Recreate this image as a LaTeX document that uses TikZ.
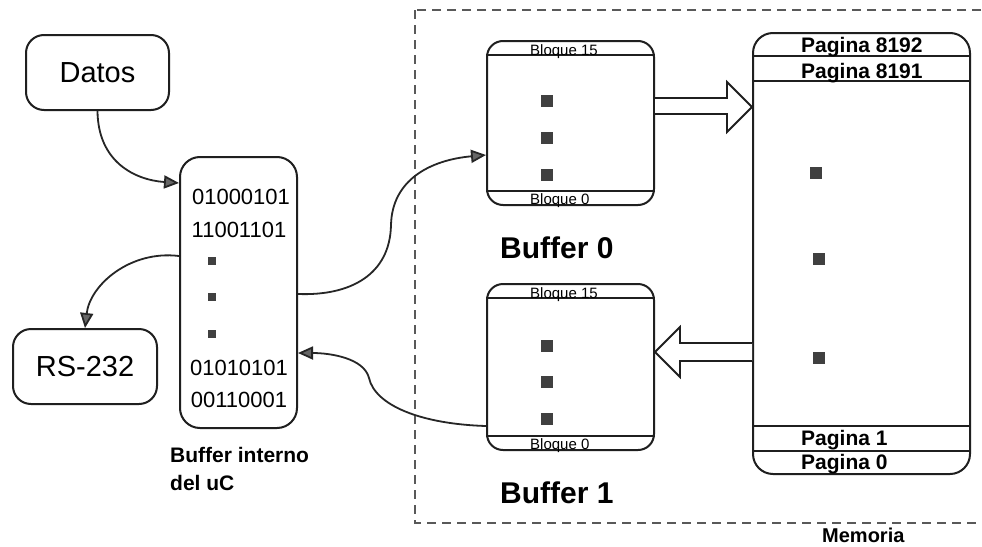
\documentclass[tikz,border=0pt]{standalone}
\usepackage{fontspec}
\setmainfont{Liberation Sans}
\usetikzlibrary{arrows.meta,calc}

\newcommand\fsz[1]{\fontsize{#1}{#1}\selectfont}

\begin{document}
\begin{tikzpicture}[x=1pt,y=-1pt,
  ink/.style={draw=black!88, line width=2pt},
  box/.style={ink, rounded corners=18pt, inner sep=0pt, align=center},
  bank/.style={ink, rounded corners=16pt, inner sep=0pt},
  band/.style={draw=black!88, line width=1.6pt},
  conn/.style={draw=black!85, line width=1.8pt,
    -{Triangle[length=15pt,width=13pt,fill=black!60]}},
  hollow/.style={draw=black!88, line width=1.8pt, fill=white, line join=miter},
  cell/.style={fill=black!75},
  bits/.style={inner sep=0pt, font=\fsz{22}},
  blk/.style={inner sep=0pt, anchor=base west, font=\fsz{15}},
  pg/.style={inner sep=0pt, anchor=base west, font=\fsz{21}\bfseries},
  title/.style={inner sep=0pt, anchor=base west, font=\fsz{30}\bfseries},
  frame/.style={draw=black!65, line width=1.2pt, dash pattern=on 9pt off 6pt}]

\clip (0,0) rectangle (982,546);
\fill[white] (0,0) rectangle (982,546);

% memory region
\draw[frame] (415,10) rectangle (1010,523);
\node[pg, font=\fsz{20}\bfseries] (memlbl) at (822,542) {Memoria};

% microcontroller side
\node[box, minimum width=143pt, minimum height=75pt, font=\fsz{29}] (datos) at (97.5,72.5) {Datos};
\node[box, minimum width=144pt, minimum height=75pt, font=\fsz{29}] (rs) at (85,366.5) {RS-232};
\node[box, minimum width=117pt, minimum height=271pt, rounded corners=20pt] (bint) at (238.5,292.5) {};

\node[bits] (b1) at (241,197) {01000101};
\node[bits] (b2) at (239,230) {11001101};
\node[bits] (b3) at (239,368) {01010101};
\node[bits] (b4) at (239,400) {00110001};
\foreach \y in {261,297,334}
  \fill[cell] (208,\y-4) rectangle (216,\y+4);

\node[inner sep=0pt, anchor=base west, font=\fsz{21}\bfseries] (bintlbl1) at (170,462) {Buffer interno};
\node[inner sep=0pt, anchor=base west, font=\fsz{21}\bfseries] (bintlbl2) at (170,490) {del uC};

% buffer banks
\node[bank, minimum width=167pt, minimum height=164pt] (buf0) at (570.5,123) {};
\node[bank, minimum width=167pt, minimum height=166pt] (buf1) at (570.5,367) {};
\foreach \b in {buf0,buf1}{
  \draw[band] ($(\b.north west)+(0,15)$) -- ($(\b.north east)+(0,15)$);
  \draw[band] ($(\b.south west)+(0,-15)$) -- ($(\b.south east)+(0,-15)$);
}
\node[blk] (b0top) at (530,55) {Bloque 15};
\node[blk] (b0bot) at (530,204) {Bloque 0};
\node[blk] (b1top) at (530,298) {Bloque 15};
\node[blk] (b1bot) at (530,449) {Bloque 0};
\foreach \y in {101,138,175,346,382,419}
  \fill[cell] (541,\y-6) rectangle (553,\y+6);
\node[title] (buf0lbl) at (500,258) {Buffer 0};
\node[title] (buf1lbl) at (500,503) {Buffer 1};

% flash memory pages
\node[bank, minimum width=217pt, minimum height=441pt, rounded corners=20pt] (mem) at (861.5,253.5) {};
\draw[band] ($(mem.north west)+(0,24)$) -- ($(mem.north east)+(0,24)$);
\draw[band] ($(mem.north west)+(0,49)$) -- ($(mem.north east)+(0,49)$);
\draw[band] ($(mem.south west)+(0,-49)$) -- ($(mem.south east)+(0,-49)$);
\draw[band] ($(mem.south west)+(0,-24)$) -- ($(mem.south east)+(0,-24)$);
\node[pg] (p8192) at (801,52.5) {Pagina 8192};
\node[pg] (p8191) at (801,78) {Pagina 8191};
\node[pg] (p1) at (801,445) {Pagina 1};
\node[pg] (p0) at (801,469) {Pagina 0};
\fill[cell] (810,167) rectangle (822,179);
\fill[cell] (813,253) rectangle (825,265);
\fill[cell] (813,352) rectangle (825,364);

% block transfers between banks and memory
\draw[hollow] (buf0.east |- 0,98) -- ($(mem.west |- 0,98)+(-25,0)$)
  -- ($(mem.west |- 0,82)+(-25,0)$) -- (mem.west |- 0,107)
  -- ($(mem.west |- 0,132)+(-25,0)$) -- ($(mem.west |- 0,114)+(-25,0)$)
  -- (buf0.east |- 0,114);
\draw[hollow] (mem.west |- 0,343) -- ($(buf1.east |- 0,343)+(25,0)$)
  -- ($(buf1.east |- 0,327)+(25,0)$) -- (buf1.east |- 0,352)
  -- ($(buf1.east |- 0,377)+(25,0)$) -- ($(buf1.east |- 0,361)+(25,0)$)
  -- (mem.west |- 0,361);

% data paths
\draw[conn] (datos.south) .. controls (98,162) and (135,180) .. (bint.west |- 0,183);
\draw[conn] (bint.west |- 0,256) .. controls (130,250) and (90,285) .. (rs.north);
\draw[conn] (bint.east |- 0,294) .. controls (350,296) and (390,275) .. (391,225)
  .. controls (392,180) and (430,160) .. (buf0.west |- 0,155);
\draw[conn] (buf1.west |- 0,426) .. controls (420,424) and (375,405) .. (369,378)
  .. controls (364,358) and (330,353) .. (bint.east |- 0,353);
\end{tikzpicture}
\end{document}
